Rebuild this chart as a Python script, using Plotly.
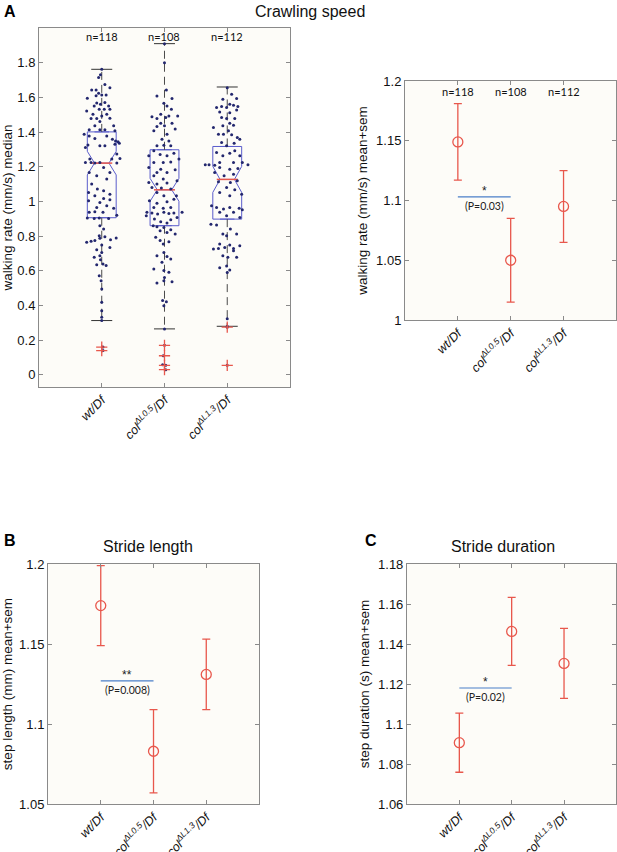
import plotly.graph_objects as go

# groups and tick labels
groups = [1, 2, 3]
group_labels = ["<i>wt/Df</i>",
                "<i>col</i><sup><i>ΔL0.5</i></sup><i>/Df</i>",
                "<i>col</i><sup><i>ΔL1.3</i></sup><i>/Df</i>"]
n_labels = ["n=118", "n=108", "n=112"]

# panel A left: box stats (walking rate median, mm/s)
box_q1 = [0.906, 0.860, 0.898]
box_median = [1.221, 1.067, 1.127]
box_q3 = [1.401, 1.298, 1.317]
box_low = [0.313, 0.265, 0.280]
box_high = [1.762, 1.910, 1.660]
box_notch = [0.068, 0.066, 0.075]
outliers_y = [[0.160, 0.140], [0.170, 0.110, 0.055, 0.030], [0.275, 0.055]]

# individual animals (jitter offset, value)
wt_dx = [-0.05, -0.02, 0.05, 0.13, -0.16, -0.09, -0.05, -0.09, 0.0, 0.07, -0.23, -0.08, -0.12, -0.02,
         0.05, 0.11, -0.24, -0.04, 0.04, 0.13, -0.14, 0.0, 0.08, -0.17, -0.08, -0.03, 0.13, 0.19,
         -0.11, -0.03, 0.05, -0.20, 0.21, -0.28, -0.20, -0.11, 0.08, 0.17, 0.22, 0.26, -0.22, -0.03,
         0.05, 0.21, 0.28, -0.26, 0.24, 0.29, 0.16, -0.19, -0.26, -0.17, -0.11, -0.03, 0.24, 0.03,
         0.13, -0.20, -0.08, 0.08, -0.16, -0.07, 0.03, -0.21, -0.11, 0.13, 0.03, -0.21, -0.03, 0.13,
         0.08, -0.08, 0.19, 0.02, -0.20, -0.11, 0.24, -0.04, -0.23, -0.12, 0.11, -0.03, 0.03, -0.04,
         -0.24, -0.17, -0.11, -0.03, 0.05, 0.14, 0.23, 0.0, 0.13, -0.08, 0.0, -0.03, -0.12, -0.02,
         0.02, -0.08, 0.07, -0.04, -0.01, 0.0, 0.0, 0.0, 0.0, 0.0, 0.0, 0.02, 0.02]
wt_y = [1.714, 1.731, 1.674, 1.656, 1.643, 1.643, 1.624, 1.610, 1.614, 1.614, 1.595, 1.568, 1.551, 1.560,
        1.570, 1.551, 1.522, 1.532, 1.532, 1.532, 1.503, 1.493, 1.503, 1.478, 1.478, 1.461, 1.480, 1.436,
        1.436, 1.413, 1.413, 1.413, 1.407, 1.388, 1.378, 1.363, 1.378, 1.359, 1.349, 1.344, 1.326, 1.321,
        1.321, 1.330, 1.336, 1.311, 1.273, 1.248, 1.244, 1.244, 1.225, 1.225, 1.221, 1.225, 1.221, 1.196,
        1.167, 1.167, 1.148, 1.129, 1.100, 1.071, 1.061, 1.052, 1.033, 1.042, 1.017, 1.004, 0.994, 1.010,
        0.975, 0.965, 0.960, 0.937, 0.937, 0.940, 0.921, 0.904, 0.904, 0.902, 0.902, 0.860, 0.841, 0.802,
        0.764, 0.770, 0.774, 0.787, 0.797, 0.779, 0.789, 0.749, 0.735, 0.722, 0.706, 0.687, 0.678, 0.664,
        0.639, 0.635, 0.630, 0.572, 0.543, 0.495, 0.418, 0.370, 0.332, 1.762, 0.313, 0.160, 0.140]

c05_dx = [0.0, 0.0, 0.03, -0.12, 0.12, -0.01, 0.04, 0.11, -0.06, -0.20, -0.12, 0.02, 0.07, 0.21,
          -0.06, 0.0, 0.12, -0.17, -0.12, 0.17, 0.04, -0.04, 0.07, -0.12, -0.01, 0.10, -0.17, -0.25,
          -0.07, 0.04, 0.15, 0.23, -0.17, -0.02, 0.10, -0.25, -0.06, -0.12, 0.04, 0.17, -0.17, -0.02,
          -0.25, -0.12, 0.04, 0.20, -0.20, -0.05, 0.10, -0.12, -0.01, 0.19, -0.24, -0.12, 0.04, 0.15,
          -0.17, -0.02, 0.10, -0.28, -0.20, -0.11, -0.01, 0.07, 0.15, 0.28, -0.29, 0.20, -0.16, 0.10,
          -0.06, 0.04, -0.18, -0.12, -0.01, -0.07, 0.04, 0.10, -0.14, 0.17, -0.07, 0.07, -0.02, -0.01,
          -0.12, 0.04, 0.10, -0.04, -0.17, -0.01, 0.07, 0.0, -0.12, -0.01, 0.12, -0.03, 0.03, -0.01,
          0.0, 0.0, -0.02, 0.02, -0.03, 0.02]
c05_y = [1.910, 1.800, 1.643, 1.608, 1.593, 1.566, 1.551, 1.532, 1.503, 1.489, 1.478, 1.484, 1.493, 1.493,
         1.451, 1.436, 1.451, 1.407, 1.432, 1.417, 1.388, 1.359, 1.349, 1.321, 1.324, 1.321, 1.292, 1.263,
         1.271, 1.263, 1.278, 1.244, 1.225, 1.225, 1.228, 1.196, 1.186, 1.167, 1.167, 1.182, 1.148, 1.129,
         1.109, 1.100, 1.106, 1.119, 1.081, 1.077, 1.071, 1.052, 1.033, 1.033, 1.004, 0.990, 0.998, 1.013,
         0.965, 0.960, 0.965, 0.937, 0.933, 0.927, 0.937, 0.931, 0.933, 0.937, 0.917, 0.908, 0.898, 0.894,
         0.883, 0.875, 0.860, 0.854, 0.850, 0.831, 0.821, 0.837, 0.793, 0.812, 0.774, 0.768, 0.754, 0.706,
         0.687, 0.683, 0.668, 0.649, 0.610, 0.601, 0.591, 0.562, 0.530, 0.543, 0.537, 0.428, 0.422, 0.399,
         0.265, 0.170, 0.110, 0.055, 0.058, 0.030]

c13_dx = [0.0, 0.07, -0.07, 0.15, 0.04, -0.17, -0.09, -0.01, 0.10, 0.17, -0.12, 0.04, 0.15, -0.09,
          -0.01, 0.12, 0.04, -0.07, -0.22, 0.10, -0.14, -0.06, 0.07, 0.16, 0.02, -0.09, 0.11, 0.20,
          -0.01, 0.12, -0.17, 0.04, -0.07, 0.20, -0.35, -0.29, -0.20, -0.12, 0.10, 0.24, 0.33, -0.12,
          0.04, 0.17, -0.20, 0.10, -0.05, -0.14, 0.05, 0.16, -0.01, 0.12, -0.12, 0.04, 0.23, -0.25,
          -0.17, -0.06, 0.04, 0.19, -0.12, 0.10, 0.24, -0.01, 0.20, -0.26, -0.17, 0.05, 0.15, -0.07,
          -0.01, -0.12, -0.04, -0.22, -0.14, 0.10, 0.20, 0.04, 0.10, -0.07, 0.01, 0.15, -0.12, -0.01,
          0.04, 0.0, 0.0, 0.0, 0.0, 0.0]
c13_y = [1.656, 1.618, 1.589, 1.593, 1.560, 1.541, 1.547, 1.541, 1.555, 1.547, 1.516, 1.512, 1.528, 1.484,
         1.478, 1.478, 1.451, 1.436, 1.426, 1.440, 1.388, 1.388, 1.384, 1.369, 1.407, 1.340, 1.336, 1.359,
         1.321, 1.292, 1.282, 1.278, 1.263, 1.263, 1.211, 1.211, 1.209, 1.225, 1.225, 1.225, 1.211, 1.196,
         1.186, 1.190, 1.167, 1.157, 1.148, 1.113, 1.109, 1.119, 1.081, 1.067, 1.052, 1.033, 1.042, 0.975,
         0.965, 0.956, 0.965, 0.960, 0.937, 0.937, 0.952, 0.917, 0.908, 0.869, 0.864, 0.841, 0.812, 0.812,
         0.802, 0.754, 0.735, 0.726, 0.729, 0.729, 0.745, 0.749, 0.716, 0.687, 0.678, 0.678, 0.618, 0.628,
         0.605, 0.323, 0.280, 0.275, 0.055, 0.590]

# panels A right, B, C: mean +/- sem
speed_mean = [1.149, 1.050, 1.095]
speed_sem = [0.032, 0.035, 0.030]
length_mean = [1.174, 1.083, 1.131]
length_sem = [0.025, 0.026, 0.022]
duration_mean = [1.0907, 1.1463, 1.1303]
duration_sem = [0.0148, 0.0170, 0.0175]

# significance bars (wt vs colΔL0.5)
sig_y = [1.103, 1.127, 1.118]
sig_stars = ["*", "**", "*"]
sig_p = ["(P=0.03)", "(P=0.008)", "(P=0.02)"]

BLUE = "#5a5ccc"
DOT = "#23276e"
RED = "#e8574c"
SIG = "#4a7fc8"
FONT = "Liberation Sans"

fig = go.Figure()

# ---- panel A left: notched boxes with jittered points
for i, g in enumerate(groups):
    fig.add_trace(go.Box(
        x=[g], q1=[box_q1[i]], median=[box_median[i]], q3=[box_q3[i]],
        lowerfence=[box_q1[i]], upperfence=[box_q3[i]], notchspan=[box_notch[i]],
        notched=True, notchwidth=0.25, width=0.46, boxpoints=False,
        line=dict(color=BLUE, width=1), fillcolor="rgba(0,0,0,0)",
        hoverinfo="skip", xaxis="x", yaxis="y"))
    # dashed whiskers
    fig.add_trace(go.Scatter(
        x=[g, g, None, g, g], y=[box_q3[i], box_high[i], None, box_q1[i], box_low[i]],
        mode="lines", line=dict(color="#4a4a4a", width=1, dash="8px,5px"),
        xaxis="x", yaxis="y"))
    # whisker caps
    fig.add_trace(go.Scatter(
        x=[g, g], y=[box_high[i], box_low[i]], mode="markers",
        marker=dict(symbol="line-ew-open", size=15, color="#333333", line=dict(color="#333333", width=1)),
        xaxis="x", yaxis="y"))
    # red median
    fig.add_trace(go.Scatter(
        x=[g], y=[box_median[i]], mode="markers",
        marker=dict(symbol="line-ew-open", size=15, color=RED, line=dict(color=RED, width=1.5)),
        xaxis="x", yaxis="y"))

for g, dx, ys in zip(groups, [wt_dx, c05_dx, c13_dx], [wt_y, c05_y, c13_y]):
    fig.add_trace(go.Scatter(
        x=[g + d for d in dx], y=ys, mode="markers",
        marker=dict(color=DOT, size=3), xaxis="x", yaxis="y"))

for g, oy in zip(groups, outliers_y):
    fig.add_trace(go.Scatter(
        x=[g] * len(oy), y=oy, mode="markers",
        marker=dict(symbol="cross-thin-open", size=8, color=RED, line=dict(color=RED, width=1.3)),
        xaxis="x", yaxis="y"))

# ---- mean +/- sem panels
for means, sems, ax in [(speed_mean, speed_sem, "2"), (length_mean, length_sem, "3"),
                        (duration_mean, duration_sem, "4")]:
    fig.add_trace(go.Scatter(
        x=groups, y=means, mode="markers",
        marker=dict(symbol="circle-open", size=10, color=RED, line=dict(width=1.3)),
        error_y=dict(type="data", array=sems, color=RED, thickness=1.3, width=4),
        xaxis="x" + ax, yaxis="y" + ax))

for k, ax in enumerate(["2", "3", "4"]):
    fig.add_trace(go.Scatter(
        x=[groups[0], groups[1]], y=[sig_y[k], sig_y[k]], mode="lines",
        line=dict(color=SIG, width=1.2), xaxis="x" + ax, yaxis="y" + ax))
    fig.add_annotation(x=1.5, y=sig_y[k], xref="x" + ax, yref="y" + ax, text=sig_stars[k],
                       showarrow=False, yanchor="bottom", yshift=-3,
                       font=dict(family=FONT, size=12, color="#222"))
    fig.add_annotation(x=1.5, y=sig_y[k], xref="x" + ax, yref="y" + ax, text=sig_p[k],
                       showarrow=False, yanchor="top", yshift=-1,
                       font=dict(family="Lato", size=10.5, color="#222"))

# n labels
for ax, ny in [("", 1.95), ("2", 1.191)]:
    for g, t in zip(groups, n_labels):
        fig.add_annotation(x=g, y=ny, xref="x" + ax, yref="y" + ax, text=t, showarrow=False,
                           font=dict(family="Lato", size=11, color="#111"))

axis_style = dict(showline=True, mirror="ticks", linecolor="#8a8a8a", linewidth=1, automargin=False,
                  ticks="inside", ticklen=4, tickcolor="#8a8a8a", showgrid=False, zeroline=False,
                  tickfont=dict(family=FONT, size=13, color="#111"))
xstyle = dict(axis_style, range=[0, 4], tickvals=groups, ticktext=group_labels, tickangle=-45,
              tickfont=dict(family=FONT, size=12.5, color="#111"))
title_font = dict(family=FONT, size=13.5, color="#111")

fig.update_layout(
    width=617, height=852, margin=dict(l=0, r=0, t=0, b=0, autoexpand=False),
    paper_bgcolor="white", plot_bgcolor="#fdfcf8", showlegend=False,
    xaxis=dict(xstyle, domain=[0.0632, 0.470], anchor="y"),
    yaxis=dict(axis_style, domain=[0.5458, 0.9671], range=[-0.07, 2.0], tickvals=[0, 0.2, 0.4, 0.6, 0.8, 1, 1.2, 1.4, 1.6, 1.8],
               title=dict(text="walking rate (mm/s) median", font=title_font, standoff=5), anchor="x"),
    xaxis2=dict(xstyle, domain=[0.6564, 0.999], anchor="y2"),
    yaxis2=dict(axis_style, domain=[0.6244, 0.905], range=[1.0, 1.2], dtick=0.05,
                title=dict(text="walking rate (mm/s) mean+sem", font=title_font, standoff=5), anchor="x2"),
    xaxis3=dict(xstyle, domain=[0.0778, 0.4198], anchor="y3"),
    yaxis3=dict(axis_style, domain=[0.0563, 0.338], range=[1.05, 1.2], dtick=0.05,
                title=dict(text="step length (mm) mean+sem", font=title_font, standoff=5), anchor="x3"),
    xaxis4=dict(xstyle, domain=[0.6596, 0.999], anchor="y4"),
    yaxis4=dict(axis_style, domain=[0.0563, 0.338], range=[1.06, 1.18], dtick=0.02,
                title=dict(text="step duration (s) mean+sem", font=title_font, standoff=5), anchor="x4"),
)

# panel letters and titles
for txt, x, y in [("A", 0.004, 0.999), ("B", 0.004, 0.378), ("C", 0.588, 0.378)]:
    fig.add_annotation(x=x, y=y, xref="paper", yref="paper", text="<b>" + txt + "</b>", showarrow=False,
                       xanchor="left", yanchor="top", font=dict(family=FONT, size=16, color="black"))
for txt, x, y in [("Crawling speed", 0.502, 0.987), ("Stride length", 0.240, 0.358),
                  ("Stride duration", 0.815, 0.358)]:
    fig.add_annotation(x=x, y=y, xref="paper", yref="paper", text=txt, showarrow=False,
                       xanchor="center", yanchor="middle", font=dict(family=FONT, size=16, color="#111"))

# the page's default body margin would shift the figure by 8px
fig.write_html("out.html", config={"displayModeBar": False},
               post_script="document.body.style.margin='0px';document.body.style.overflow='hidden';")
